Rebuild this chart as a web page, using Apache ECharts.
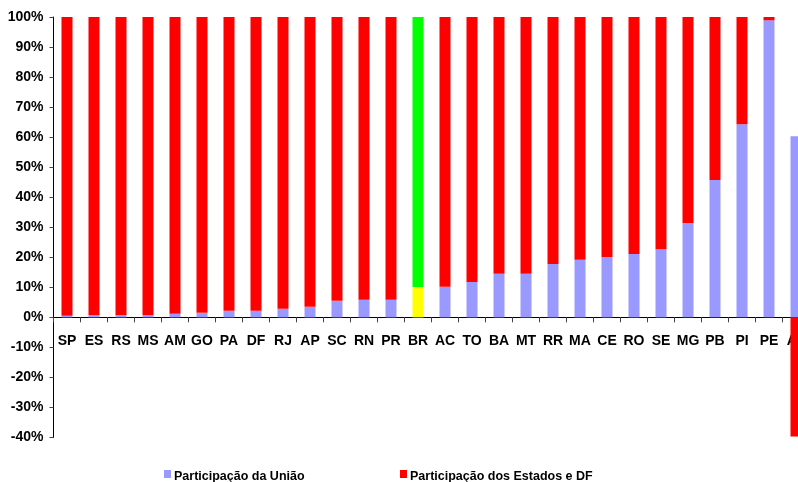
<!DOCTYPE html>
<html>
<head>
<meta charset="utf-8">
<script src="https://cdn.jsdelivr.net/npm/echarts@6/dist/echarts.min.js"></script>
<style>
  html, body { margin: 0; padding: 0; background: #fff; }
  #chart { width: 798px; height: 482px; }
</style>
</head>
<body>
<div id="chart"></div>
<script>
// dados
var estadosUF = ['SP', 'ES', 'RS', 'MS', 'AM', 'GO', 'PA', 'DF', 'RJ', 'AP', 'SC', 'RN', 'PR', 'BR',
  'AC', 'TO', 'BA', 'MT', 'RR', 'MA', 'CE', 'RO', 'SE', 'MG', 'PB', 'PI', 'PE', 'AL'];
var partUniao = [0.5, 0.8, 0.8, 0.8, 1.2, 1.5, 2.2, 2.2, 2.9, 3.5, 5.5, 5.9, 5.9, 10.1,
  10.2, 11.8, 14.5, 14.5, 17.8, 19.2, 20.1, 21.1, 22.7, 31.4, 45.7, 64.3, 98.9, 60.3];
var partEstados = [99.5, 99.2, 99.2, 99.2, 98.8, 98.5, 97.8, 97.8, 97.1, 96.5, 94.5, 94.1, 94.1, 89.9,
  89.8, 88.2, 85.5, 85.5, 82.2, 80.8, 79.9, 78.9, 77.3, 68.6, 54.3, 35.7, 1.1, -39.7];
var yTicks = [-40, 100, 10];   // min, max, intervalo

var nomeUniao = 'Participação da União';
var nomeEstados = 'Participação dos Estados e DF';
var destaque = 'BR';

var fonte = 'Liberation Sans, Arial, sans-serif';

// altura do grid e posicao do zero (eixo x fica no 0%)
var gridTop = 17, gridBottom = 44.5, alturaTotal = 482;
var alturaGrid = alturaTotal - gridTop - gridBottom;
var deslocZero = alturaGrid * (0 - yTicks[0]) / (yTicks[1] - yTicks[0]);

function montaSerie(valores, corDestaque) {
  return valores.map(function (v, i) {
    if (estadosUF[i] === destaque) {
      return { value: v, itemStyle: { color: corDestaque } };
    }
    return v;
  });
}

var chart = echarts.init(document.getElementById('chart'));

var legendaTexto = { color: '#000', fontSize: 12.5, fontWeight: 'bold', fontFamily: fonte, padding: [0, 0, 0, -2] };
// quadradinho 7x8 na parte de cima de uma caixa 7x14 (fica acima do centro do texto)
var iconeLegenda = 'path://M0,0 L7,0 L7,8 L0,8 Z M0,13.99 L0.01,13.99 L0.01,14 L0,14 Z';

var option = {
  animation: false,
  backgroundColor: '#fff',
  grid: {
    left: 53.5,
    width: 756,   // a ultima coluna (AL) sai do quadro, como no original
    top: gridTop,
    bottom: gridBottom,
    outerBoundsMode: 'none',
    containLabel: false
  },
  legend: [
    {
      data: [nomeUniao],
      left: 164,
      top: 470,
      padding: 0,
      itemWidth: 7,
      itemHeight: 14,
      icon: iconeLegenda,
      textStyle: legendaTexto
    },
    {
      data: [nomeEstados],
      left: 400,
      top: 470,
      padding: 0,
      itemWidth: 7,
      itemHeight: 14,
      icon: iconeLegenda,
      textStyle: legendaTexto
    }
  ],
  xAxis: {
    type: 'category',
    data: estadosUF,
    offset: -deslocZero,
    axisLine: { onZero: false, lineStyle: { color: '#000', width: 1 } },
    axisTick: { show: true, length: 5, interval: 0, lineStyle: { color: '#444' } },
    axisLabel: {
      interval: 0,
      margin: 17,
      color: '#000',
      fontSize: 14,
      fontWeight: 'bold',
      fontFamily: fonte
    },
    splitLine: { show: false }
  },
  yAxis: {
    type: 'value',
    min: yTicks[0],
    max: yTicks[1],
    interval: yTicks[2],
    axisLine: { show: true, lineStyle: { color: '#000', width: 1 } },
    axisTick: { show: true, length: 4, lineStyle: { color: '#444' } },
    axisLabel: {
      formatter: '{value}%',
      margin: 10,
      color: '#000',
      fontSize: 14,
      fontWeight: 'bold',
      fontFamily: fonte
    },
    splitLine: { show: false }
  },
  series: [
    {
      name: nomeUniao,
      type: 'bar',
      stack: 'total',
      barWidth: 11,
      itemStyle: { color: '#9999FF' },
      data: montaSerie(partUniao, '#FFFF00')
    },
    {
      name: nomeEstados,
      type: 'bar',
      stack: 'total',
      barWidth: 11,
      itemStyle: { color: '#FF0000' },
      data: montaSerie(partEstados, '#00FF00')
    }
  ]
};

chart.setOption(option);
</script>
</body>
</html>
